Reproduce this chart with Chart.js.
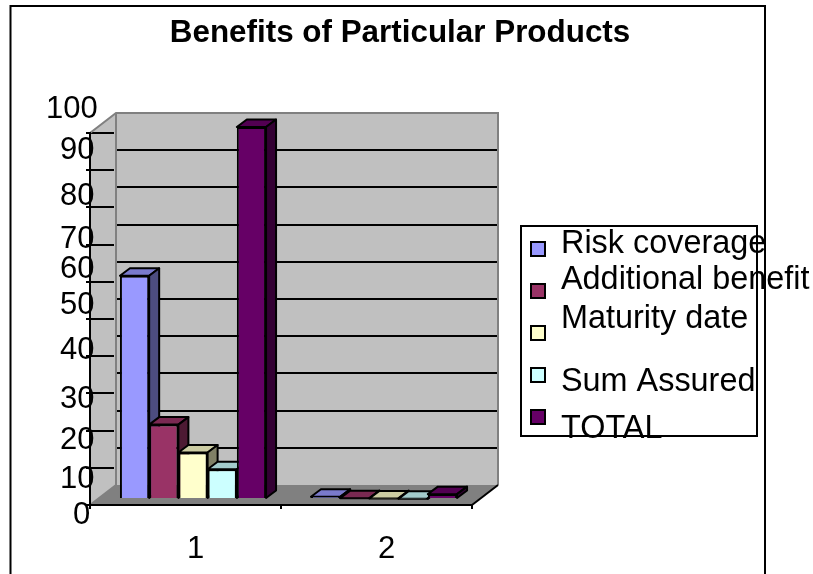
<!DOCTYPE html>
<html>
<head>
<meta charset="utf-8">
<style>
    html, body { margin: 0; padding: 0; background: #ffffff; }
    #wrap { width: 813px; height: 574px; }
</style>
<script src="https://cdn.jsdelivr.net/npm/chart.js@4"></script>
</head>
<body>
<div id="wrap"><canvas id="chart" width="813" height="574"></canvas></div>
<script>
// ========== Data ==========
const categories = ["1", "2"];
const riskCoverage = [60, 0.6];
const additionalBenefit = [20, 0.2];
const maturityDate = [12.5, 0.12];
const sumAssured = [8, 0.08];
const total = [100, 1.3];

// ========== Label nudges, ticks 0 to 100 ==========
const yLabelNudgeX = [-17, -30, -30, -30, -30, -30, -30, -30, -30, -30, -44];
const yLabelNudgeY = [10, 12, 10, 6, -6, -14, -12, -5, -11, -20, -24];
const xLabelNudgeX = 10;

// ----- 3D offsets -----
const wallDepth = { x: 26, y: -20 };      // front plane to back wall
const barOffset = { x: 7.5, y: -6 };      // front plane to front of bars
const barDepth = { x: 10, y: -7.5 };      // extrusion of each bar

const FONT = "'Liberation Sans', Arial, sans-serif";

function shade(hex, f) {
    const n = parseInt(hex.slice(1), 16);
    const r = Math.round((n >> 16 & 255) * f);
    const g = Math.round((n >> 8 & 255) * f);
    const b = Math.round((n & 255) * f);
    return `rgb(${r},${g},${b})`;
}

function poly(ctx, pts, fill, stroke, width) {
    ctx.beginPath();
    pts.forEach((p, i) => i ? ctx.lineTo(p[0], p[1]) : ctx.moveTo(p[0], p[1]));
    ctx.closePath();
    if (fill) { ctx.fillStyle = fill; ctx.fill(); }
    if (stroke) { ctx.strokeStyle = stroke; ctx.lineWidth = width; ctx.stroke(); }
}

// walls, floor and gridlines behind the bars
const wallsPlugin = {
    id: 'walls',
    beforeDraw(chart) {
        const { ctx, chartArea: a, scales: { y } } = chart;
        const d = wallDepth;
        ctx.save();
        // page frame
        ctx.strokeStyle = '#000';
        ctx.lineWidth = 2;
        ctx.beginPath();
        ctx.moveTo(10.5, 575); ctx.lineTo(10.5, 6); ctx.lineTo(765, 6); ctx.lineTo(765, 575);
        ctx.stroke();
        // side wall
        poly(ctx, [[a.left, a.top], [a.left + d.x, a.top + d.y], [a.left + d.x, a.bottom + d.y], [a.left, a.bottom]], '#c0c0c0');
        // back wall
        poly(ctx, [[a.left + d.x, a.top + d.y], [a.right + d.x, a.top + d.y], [a.right + d.x, a.bottom + d.y], [a.left + d.x, a.bottom + d.y]], '#c0c0c0');
        // floor
        poly(ctx, [[a.left, a.bottom], [a.left + d.x, a.bottom + d.y], [a.right + d.x, a.bottom + d.y], [a.right, a.bottom]], '#808080');
        // gridlines on the back wall and across the side wall
        ctx.strokeStyle = '#000';
        ctx.lineWidth = 2;
        y.ticks.forEach(t => {
            const py = Math.round(y.getPixelForValue(t.value));
            if (t.value > 0 && t.value < 100) {
                ctx.beginPath();
                ctx.moveTo(a.left + d.x, py + d.y);
                ctx.lineTo(a.right + d.x, py + d.y);
                ctx.stroke();
            }
            if (t.value > 0) {
                ctx.beginPath();
                ctx.moveTo(a.left, py);
                ctx.lineTo(a.left + d.x - 2, py);
                ctx.stroke();
            }
        });
        // wall edges
        ctx.strokeStyle = '#808080';
        ctx.beginPath();
        ctx.moveTo(a.left, a.top);
        ctx.lineTo(a.left + d.x, a.top + d.y);
        ctx.lineTo(a.right + d.x, a.top + d.y);
        ctx.lineTo(a.right + d.x, a.bottom + d.y);
        ctx.moveTo(a.left + d.x, a.top + d.y);
        ctx.lineTo(a.left + d.x, a.bottom + d.y);
        ctx.moveTo(a.left, a.bottom);
        ctx.lineTo(a.left + d.x, a.bottom + d.y);
        ctx.stroke();
        // right floor edge
        ctx.strokeStyle = '#000';
        ctx.beginPath();
        ctx.moveTo(a.right, a.bottom);
        ctx.lineTo(a.right + d.x, a.bottom + d.y);
        ctx.stroke();
        ctx.restore();
    }
};

// draws the bar elements left to right, each with its top and side face
const extrudePlugin = {
    id: 'extrude',
    beforeDatasetsDraw(chart) {
        const ctx = chart.ctx;
        const n = chart.data.datasets.length;
        ctx.save();
        ctx.translate(barOffset.x, barOffset.y);
        for (let c = categories.length - 1; c >= 0; c--) {
            for (let i = 0; i < n; i++) {
                const bar = chart.getDatasetMeta(i).data[c];
                const color = chart.data.datasets[i].backgroundColor;
                const L = bar.x - bar.width / 2, R = bar.x + bar.width / 2;
                const T = bar.y, B = bar.base;
                const dx = barDepth.x, dy = barDepth.y;
                ctx.lineJoin = 'round';
                poly(ctx, [[L, T], [L + dx, T + dy], [R + dx, T + dy], [R, T]], shade(color, 0.8), '#000', 2);
                poly(ctx, [[R, T], [R + dx, T + dy], [R + dx, B + dy], [R, B]], shade(color, 0.5), '#000', 2);
                bar.draw(ctx);
            }
        }
        ctx.restore();
        return false;
    }
};

// legend box with its uneven text rows
const legendRowText = [-5, -11, -14, 7, 12];
const legendPlugin = {
    id: 'legendBox',
    afterDraw(chart) {
        const ctx = chart.ctx;
        ctx.save();
        ctx.strokeStyle = '#000';
        ctx.lineWidth = 2;
        ctx.strokeRect(521, 226, 236, 210);
        ctx.font = "32.4px " + FONT;
        ctx.textBaseline = 'middle';
        chart.data.datasets.forEach((ds, i) => {
            const cy = 249 + i * 42;
            ctx.fillStyle = ds.backgroundColor;
            ctx.fillRect(531, cy - 7, 14, 14);
            ctx.strokeRect(531, cy - 7, 14, 14);
            ctx.fillStyle = '#000';
            ctx.fillText(ds.label, 561, cy + legendRowText[i]);
        });
        ctx.restore();
    }
};

// tick labels sit unevenly along the axes, the title is centred on the frame
const layoutPlugin = {
    id: 'nudges',
    afterLayout(chart) {
        chart.titleBlock.left = 0;
        chart.titleBlock.right = 800;
    },
    afterUpdate(chart) {
        const { x, y } = chart.scales;
        y.getLabelItems().forEach((item, i) => {
            item.options.translation[0] += yLabelNudgeX[i];
            item.options.translation[1] += yLabelNudgeY[i];
        });
        x.getLabelItems().forEach(item => {
            item.options.translation[0] += xLabelNudgeX;
        });
    }
};

const chart = document.getElementById('chart').getContext('2d');
const myChart = new Chart(chart, {
    type: 'bar',
    data: {
        labels: categories,
        datasets: [
            { label: "Risk coverage", data: riskCoverage, backgroundColor: '#9999ff' },
            { label: "Additional benefit", data: additionalBenefit, backgroundColor: '#993366' },
            { label: "Maturity date", data: maturityDate, backgroundColor: '#ffffcc' },
            { label: "Sum Assured", data: sumAssured, backgroundColor: '#ccffff' },
            { label: "TOTAL", data: total, backgroundColor: '#660066' }
        ].map(d => ({ ...d, borderColor: '#000', borderWidth: 2, categoryPercentage: 0.765, barPercentage: 1 }))
    },
    options: {
        responsive: false,
        animation: false,
        layout: { padding: { left: 0, right: 341, top: 0, bottom: 0 } },
        plugins: {
            legend: { display: false },
            tooltip: { enabled: false },
            title: {
                display: true,
                text: "Benefits of Particular Products",
                color: '#000',
                font: { family: FONT, size: 31.4, weight: 'bold', lineHeight: 1.2 },
                padding: { top: 15, bottom: 80.3 }
            }
        },
        scales: {
            x: {
                afterFit(s) { s.height = 69; },
                border: { color: '#000', width: 2 },
                grid: { drawOnChartArea: false, color: '#000', lineWidth: 2, tickLength: 4 },
                ticks: { color: '#000', font: { family: FONT, size: 31 }, padding: 22, maxRotation: 0 }
            },
            y: {
                min: 0,
                max: 100,
                afterFit(s) { s.width = 90; },
                border: { color: '#000', width: 2 },
                grid: { drawOnChartArea: false, color: '#000', lineWidth: 2, tickLength: 4 },
                ticks: { stepSize: 10, autoSkip: false, color: '#000', font: { family: FONT, size: 31 }, padding: 0, mirror: true }
            }
        }
    },
    plugins: [wallsPlugin, extrudePlugin, legendPlugin, layoutPlugin]
});
</script>
</body>
</html>
